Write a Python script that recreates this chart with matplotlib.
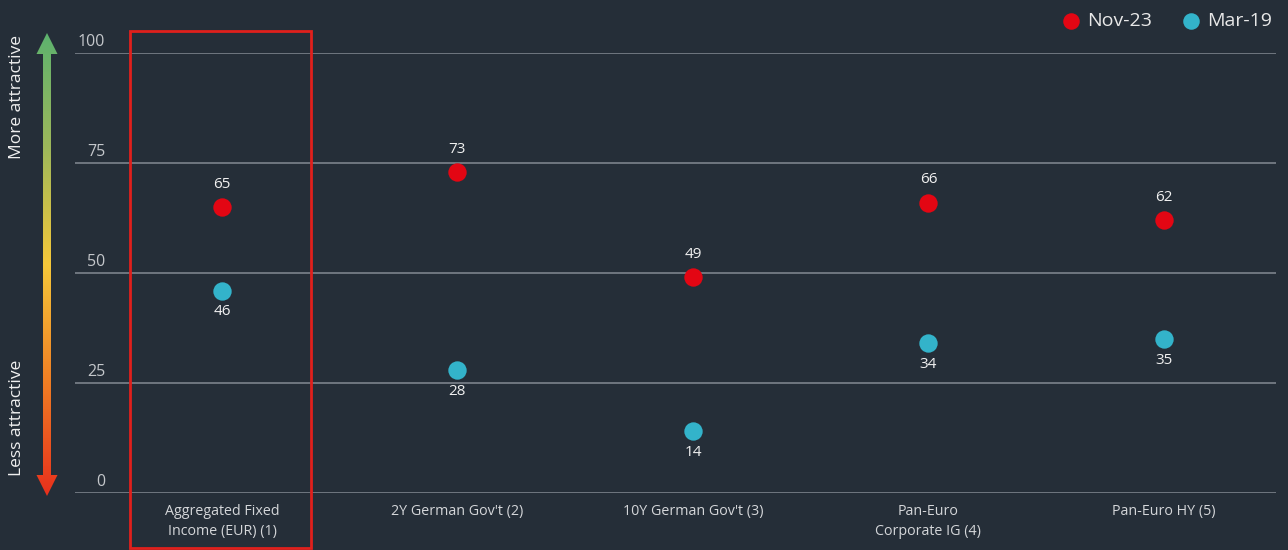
import numpy as np
import matplotlib
matplotlib.use('Agg')
import matplotlib.pyplot as plt
from matplotlib.patches import Polygon, Rectangle
from matplotlib.colors import LinearSegmentedColormap

plt.rcParams['font.family'] = ['Open Sans', 'DejaVu Sans']

# data
categories = ['Aggregated Fixed\nIncome (EUR) (1)', "2Y German Gov't (2)", "10Y German Gov't (3)",
              'Pan-Euro\nCorporate IG (4)', 'Pan-Euro HY (5)']
nov23 = [65, 73, 49, 66, 62]
mar19 = [46, 28, 14, 34, 35]
yticks = [0, 25, 50, 75, 100]

bg = '#252e38'
red = '#e30613'
teal = '#33b3ca'
txt = '#f0f0f0'
grid_c = '#7c838b'

W, H = 1288, 550
fig = plt.figure(figsize=(W / 100, H / 100), dpi=100, facecolor=bg)

# main axes: gridlines from x=75 to 1276, y 0->493px, 100->53px
ax = fig.add_axes([75 / W, (H - 493) / H, (1276 - 75) / W, (493 - 53) / H])
ax.set_facecolor(bg)
x = np.arange(len(categories))
ax.set_xlim(-0.624, 4.476)
ax.set_ylim(0, 100)
for s in ax.spines.values():
    s.set_visible(False)
ax.set_xticks([])
ax.set_yticks([])

for t in yticks:
    ax.axhline(t, color=grid_c, lw=1.2, zorder=1)
    ax.annotate(str(t), xy=(0, t), xycoords=('axes fraction', 'data'),
                xytext=(30, 3), textcoords='offset pixels', ha='right', va='bottom',
                color='#c4c7cb', fontsize=11.5)

ax.scatter(x, nov23, s=175, color=red, zorder=3, label='Nov-23', linewidths=0)
ax.scatter(x, mar19, s=175, color=teal, zorder=3, label='Mar-19', linewidths=0)

for xi, v in zip(x, nov23):
    ax.annotate(str(v), (xi, v), xytext=(0, 11), textcoords='offset points',
                ha='center', va='bottom', color=txt, fontsize=11)
for xi, v in zip(x, mar19):
    ax.annotate(str(v), (xi, v), xytext=(0, -10), textcoords='offset points',
                ha='center', va='top', color=txt, fontsize=11)

for xi, c in zip(x, categories):
    ax.text(xi, -2.6, c, ha='center', va='top', color='#d4d6d9', fontsize=10.3,
            linespacing=1.45)

# highlight box around first category
ax.add_patch(Rectangle((-0.39, -12.5), 0.768, 117.5, fill=False, edgecolor='#e0201c',
                       lw=2, clip_on=False, zorder=4))

ax.legend(loc='upper right', bbox_to_anchor=(1282 / W, 0.995), bbox_transform=fig.transFigure,
          ncol=2, frameon=False, fontsize=14, labelcolor='#e8e8e8', handletextpad=0.35,
          handlelength=1.0, columnspacing=1.5, markerscale=0.9, borderaxespad=0.1)

# overlay axes in pixel coordinates for the gradient arrow
ov = fig.add_axes([0, 0, 1, 1])
ov.set_xlim(0, W)
ov.set_ylim(H, 0)
ov.axis('off')
ov.patch.set_alpha(0)

cmap = LinearSegmentedColormap.from_list('att', ['#e8301c', '#f07f24', '#f6c83a', '#9fb85a', '#5db26e'])
grad = np.linspace(0, 1, 256).reshape(-1, 1)
top, bot, cx = 33, 496, 47
hw, sw, hl = 10.5, 4, 21
arrow = Polygon([(cx, top), (cx + hw, top + hl), (cx + sw, top + hl), (cx + sw, bot - hl),
                 (cx + hw, bot - hl), (cx, bot), (cx - hw, bot - hl), (cx - sw, bot - hl),
                 (cx - sw, top + hl), (cx - hw, top + hl)], closed=True, facecolor='none',
                edgecolor='none')
ov.add_patch(arrow)
im = ov.imshow(grad, cmap=cmap, aspect='auto', extent=[cx - 11, cx + 11, bot, top], origin='lower')
im.set_clip_path(arrow)
ov.set_xlim(0, W)
ov.set_ylim(H, 0)

ov.text(17, 97, 'More attractive', rotation=90, ha='center', va='center', color=txt, fontsize=12.5)
ov.text(17, 418, 'Less attractive', rotation=90, ha='center', va='center', color=txt, fontsize=12.5)

fig.savefig('out.png', dpi=100, facecolor=bg)
